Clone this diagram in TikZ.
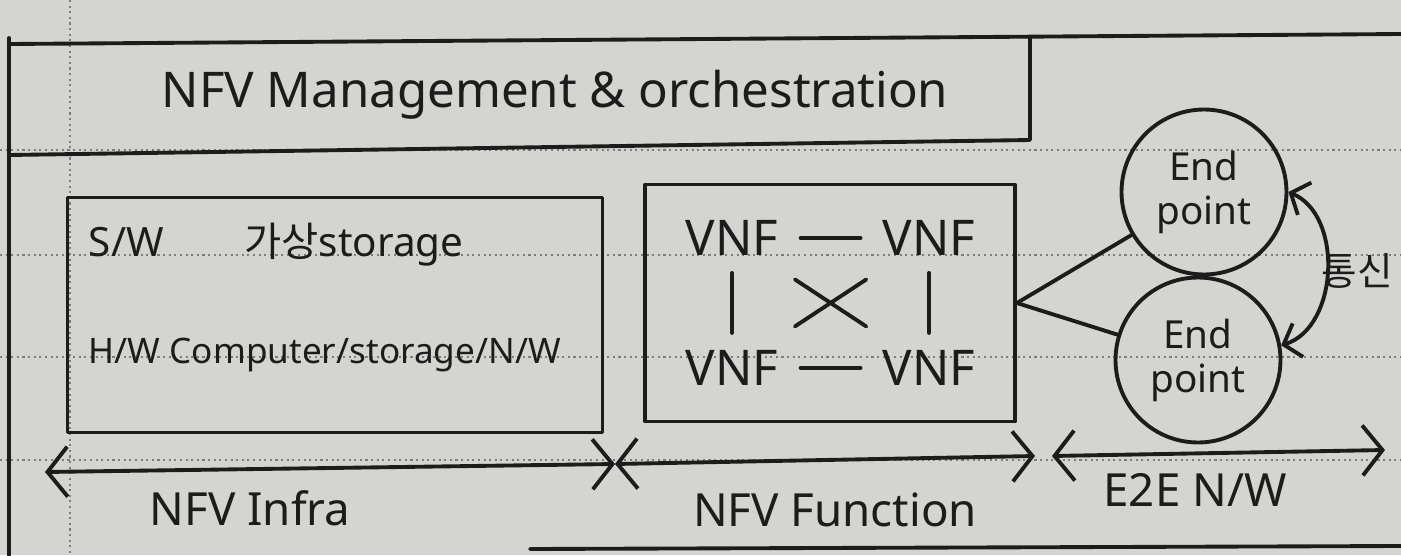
\documentclass[tikz,border=0pt]{standalone}
\usepackage{fontspec}
\setmainfont{Noto Sans}
\newfontfamily\krfont{Noto Sans CJK KR}
\usetikzlibrary{positioning,arrows.meta}

\definecolor{paper}{RGB}{212,213,208}
\definecolor{ink}{RGB}{28,28,28}
\definecolor{rulegray}{RGB}{125,125,125}

\tikzset{
  pen/.style={draw=ink, line width=2.2pt, line cap=round, line join=round},
  box/.style={pen, rectangle, inner sep=0pt},
  txt/.style={text=ink, font=\fontsize{26}{30}\selectfont, inner sep=2pt},
  vnf/.style={text=ink, font=\fontsize{28}{32}\selectfont, inner sep=4pt},
  endpt/.style={pen, circle, minimum size=3.3cm, align=center,
    font=\fontsize{22}{25}\selectfont, text=ink},
  ruled/.style={draw=rulegray, dotted, line width=1.2pt},
  barb/.tip={Straight Barb[length=4mm,width=10mm]},
  span/.style={pen, barb-barb},
}

\begin{document}
\begin{tikzpicture}[x=0.02cm, y=-0.02cm]
  % paper
  \fill[paper] (0,0) rectangle (1401,555);
  \useasboundingbox (0,0) rectangle (1401,555);
  \foreach \ry in {150,255,357,460}
  {
    \draw[ruled] (0,\ry) -- (1401,\ry);
  }
  \draw[ruled] (70,0) -- (70,555);
  \draw[pen] (9,38) -- (9,555);
  \draw[pen] (530,549) -- (1401,546);

  % management & orchestration
  \draw[pen] (9,44) -- (1401,34);
  \draw[pen] (9,155) -- (1030,140) -- (1030,38);
  \node[txt, font=\fontsize{28}{32}\selectfont] (mano) at (555,95) {NFV Management \& orchestration};

  % infra
  \node[box, minimum width=10.7cm, minimum height=4.7cm] (infra) at (335,315) {};
  \node[txt, font=\fontsize{23}{26}\selectfont, anchor=west] (sw) at (85,245) {S/W\qquad{\krfont 가상}storage};
  \node[txt, font=\fontsize{20}{24}\selectfont, anchor=west] (hw) at (85,355) {H/W Computer/storage/N/W};

  % functions
  \node[box, minimum width=7.4cm, minimum height=4.74cm] (func) at (830,303) {};
  \node[vnf] (v11) at (732,238) {VNF};
  \node[vnf] (v12) [right=1.8cm of v11] {VNF};
  \node[vnf] (v21) [below=1.6cm of v11] {VNF};
  \node[vnf] (v22) [below=1.6cm of v12] {VNF};
  \draw[pen, shorten <=0.3cm, shorten >=0.3cm] (v11) -- (v12);
  \draw[pen, shorten <=0.3cm, shorten >=0.3cm] (v21) -- (v22);
  \draw[pen, shorten <=0.2cm, shorten >=0.2cm] (v11) -- (v21);
  \draw[pen, shorten <=0.2cm, shorten >=0.2cm] (v12) -- (v22);
  \draw[pen, shorten <=0.6cm, shorten >=0.6cm] (v11) -- (v22);
  \draw[pen, shorten <=0.6cm, shorten >=0.6cm] (v12) -- (v21);

  % end points
  \node[endpt] (ep1) at (1204,192) {End\\point};
  \node[endpt] (ep2) at (1198,360) {End\\point};
  \draw[pen] (func.east) -- (ep1);
  \draw[pen] (func.east) -- (ep2);
  \draw[pen, {Straight Barb[length=3mm,width=7mm]}-{Straight Barb[length=3mm,width=7mm]}]
    (ep1.east) to[bend left=70] node[txt, right=-6pt, font=\krfont\fontsize{22}{24}\selectfont] (talk) {통신} (ep2.10);

  % spans
  \coordinate (a0) at (45,472);
  \coordinate (a1) at (615,464);
  \coordinate (a2) at (1035,456);
  \coordinate (b0) at (1052,456);
  \coordinate (b1) at (1385,450);
  \draw[span] (a0) -- (a1);
  \draw[span] (a1) -- (a2);
  \draw[span] (b0) -- (b1);
  \node[txt] (infralbl) at (250,508) {NFV Infra};
  \node[txt] (funclbl) at (835,510) {NFV Function};
  \node[txt] (e2elbl) at (1195,490) {E2E N/W};
\end{tikzpicture}
\end{document}
